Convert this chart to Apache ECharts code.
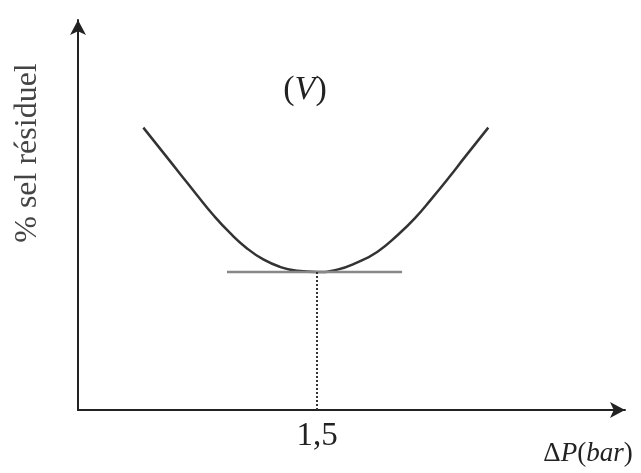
<!DOCTYPE html>
<html>
<head>
<meta charset="utf-8">
<script src="https://cdn.jsdelivr.net/npm/echarts@6/dist/echarts.min.js"></script>
<style>
  html, body { margin: 0; padding: 0; background: #fff; }
  #chart { width: 641px; height: 473px; }
</style>
</head>
<body>
<div id="chart"></div>
<script>
// courbe (V) : % sel résiduel en fonction de ΔP
var deltaP = [0.410, 0.535, 0.640, 0.745, 0.849, 0.954, 1.059, 1.163, 1.268, 1.373, 1.5,
              1.627, 1.750, 1.880, 2.010, 2.115, 2.220, 2.324, 2.429, 2.575];
var selResiduel = [7.24, 6.60, 6.06, 5.52, 5.00, 4.54, 4.15, 3.86, 3.67, 3.57, 3.54,
                   3.60, 3.78, 4.06, 4.50, 4.92, 5.42, 5.94, 6.49, 7.24];
// tangente horizontale au minimum
var tangenteX = [0.935, 2.034];
var minX = 1.5;
var minY = 3.54;
var xTicks = [1.5];
var xTickLabels = ['1,5'];

var chart = echarts.init(document.getElementById('chart'));

var curve = deltaP.map(function (x, i) { return [x, selResiduel[i]]; });

var option = {
    animation: false,
    grid: { left: 78, right: 16, top: 20, bottom: 63 },
    xAxis: {
        type: 'value',
        min: 0,
        max: 3.433,
        splitLine: { show: false },
        axisTick: { show: false },
        axisLine: {
            onZero: false,
            symbol: ['none', 'arrow'],
            symbolSize: [12, 15],
            lineStyle: { color: '#222', width: 2 }
        },
        axisLabel: {
            customValues: xTicks,
            formatter: function (v) { return xTickLabels[xTicks.indexOf(v)] || ''; },
            fontFamily: 'Liberation Serif',
            fontSize: 33,
            color: '#222',
            margin: 10
        }
    },
    yAxis: {
        type: 'value',
        min: 0,
        max: 10,
        splitLine: { show: false },
        axisTick: { show: false },
        axisLabel: { show: false },
        axisLine: {
            show: true,
            onZero: false,
            symbol: ['none', 'arrow'],
            symbolSize: [12, 15],
            lineStyle: { color: '#222', width: 2 }
        }
    },
    series: [
        {
            type: 'line',
            data: curve,
            smooth: 0.5,
            showSymbol: false,
            lineStyle: { color: '#333', width: 2.5 }
        },
        {
            type: 'line',
            data: [[tangenteX[0], minY], [tangenteX[1], minY]],
            showSymbol: false,
            lineStyle: { color: '#888', width: 2.5 }
        },
        {
            type: 'line',
            data: [[minX, 0], [minX, minY]],
            showSymbol: false,
            lineStyle: { color: '#333', width: 2, type: 'dotted' }
        }
    ],
    graphic: [
        {
            type: 'text',
            x: 305,
            y: 90,
            style: {
                text: '{p|(}{v|V}{p|)}',
                rich: {
                    p: { font: '34px "Liberation Serif"', fill: '#222' },
                    v: { font: 'italic 34px "Liberation Serif"', fill: '#222' }
                },
                align: 'center',
                verticalAlign: 'middle'
            }
        },
        {
            type: 'text',
            x: 588,
            y: 454,
            style: {
                text: '{d|Δ}{i|P}{p|(}{i|bar}{p|)}',
                rich: {
                    d: { font: '27px "Liberation Serif"', fill: '#222' },
                    i: { font: 'italic 27px "Liberation Serif"', fill: '#222' },
                    p: { font: '27px "Liberation Serif"', fill: '#222' }
                },
                align: 'center',
                verticalAlign: 'middle'
            }
        },
        {
            type: 'text',
            x: 28,
            y: 153,
            rotation: Math.PI / 2,
            style: {
                text: '% sel résiduel',
                font: '32px "Liberation Serif"',
                fill: '#444',
                align: 'center',
                verticalAlign: 'middle'
            }
        }
    ]
};

chart.setOption(option);
</script>
</body>
</html>
